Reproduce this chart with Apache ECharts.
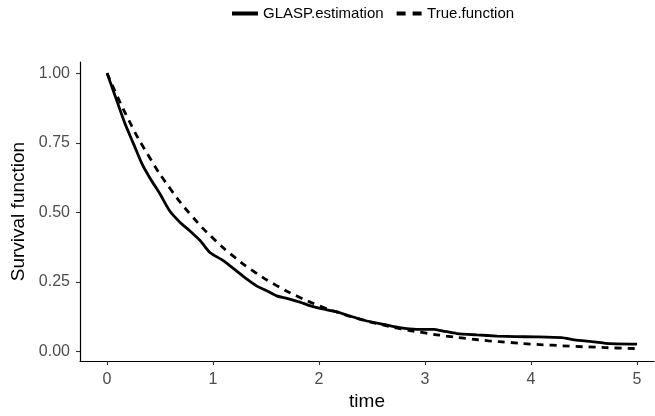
<!DOCTYPE html>
<html>
<head>
<meta charset="utf-8">
<script src="https://cdn.jsdelivr.net/npm/echarts@6/dist/echarts.min.js"></script>
<style>
html,body{margin:0;padding:0;background:#fff;}
#chart{width:655px;height:416px;}
</style>
</head>
<body>
<div id="chart"></div>
<script>
// Estimated curve (GLASP.estimation)
const glaspTime = [0, 0.08, 0.17, 0.25, 0.33, 0.41, 0.5, 0.59, 0.69, 0.78, 0.88, 0.97, 1.1, 1.22, 1.32, 1.41, 1.51, 1.6, 1.73, 1.82, 1.92, 2.01, 2.17, 2.29, 2.45, 2.61, 2.76, 2.92, 3.08, 3.17, 3.3, 3.49, 3.68, 3.85, 4.04, 4.29, 4.41, 4.6, 4.7, 5.0];
const glaspValue = [1.0, 0.914, 0.818, 0.746, 0.674, 0.62, 0.566, 0.506, 0.464, 0.434, 0.398, 0.356, 0.326, 0.29, 0.26, 0.236, 0.218, 0.2, 0.188, 0.178, 0.164, 0.155, 0.143, 0.128, 0.11, 0.098, 0.086, 0.08, 0.08, 0.074, 0.065, 0.06, 0.056, 0.054, 0.053, 0.05, 0.042, 0.035, 0.03, 0.027];
// True survival function
const trueTime = [0, 0.2, 0.4, 0.6, 0.8, 1.0, 1.2, 1.4, 1.6, 1.8, 2.0, 2.2, 2.4, 2.6, 2.8, 3.0, 3.2, 3.4, 3.6, 3.8, 4.0, 4.2, 4.4, 4.6, 4.8, 5.0];
const trueValue = [1.0, 0.835, 0.698, 0.583, 0.487, 0.407, 0.34, 0.284, 0.237, 0.198, 0.165, 0.138, 0.115, 0.096, 0.08, 0.067, 0.056, 0.047, 0.039, 0.033, 0.027, 0.023, 0.019, 0.016, 0.013, 0.011];
// Tick labels
const xTicks = [0, 1, 2, 3, 4, 5];
const yTicks = [0, 0.25, 0.5, 0.75, 1.0];
const seriesNames = ['GLASP.estimation', 'True.function'];

const zip = (a, b) => a.map((v, i) => [v, b[i]]);
const FONT = 'Liberation Sans, Arial, Helvetica, sans-serif';

const chart = echarts.init(document.getElementById('chart'), null, {renderer: 'canvas'});
chart.setOption({
  animation: false,
  backgroundColor: '#ffffff',
  textStyle: {fontFamily: FONT},
  legend: {
    top: 1,
    left: 227,
    itemWidth: 26,
    itemHeight: 4,
    itemGap: 13,
    textStyle: {fontSize: 15, color: '#000', fontFamily: FONT},
    data: [
      {name: seriesNames[0], icon: 'rect', itemStyle: {color: '#000'}},
      {name: seriesNames[1], icon: 'path://M0 0H9V4H0Z M16 0H25V4H16Z', itemStyle: {color: '#000'}}
    ]
  },
  grid: {left: 80, top: 62, width: 574, height: 300, containLabel: false},
  xAxis: {
    type: 'value',
    min: -0.255,
    max: 5.16,
    name: 'time',
    nameLocation: 'middle',
    nameGap: 30,
    nameTextStyle: {fontSize: 19, color: '#000', fontFamily: FONT},
    axisLine: {show: true, onZero: false, lineStyle: {color: '#000', width: 1.2}},
    axisTick: {show: true, customValues: xTicks, length: 4, lineStyle: {color: '#333', width: 1.1}},
    axisLabel: {customValues: xTicks, fontSize: 16, color: '#4d4d4d', margin: 10, formatter: v => String(v)},
    splitLine: {show: false}
  },
  yAxis: {
    type: 'value',
    min: -0.034,
    max: 1.04,
    name: 'Survival function',
    nameLocation: 'middle',
    nameGap: 52,
    nameTextStyle: {fontSize: 19, color: '#000', fontFamily: FONT},
    axisLine: {show: true, onZero: false, lineStyle: {color: '#000', width: 1.2}},
    axisTick: {show: true, customValues: yTicks, length: 4, lineStyle: {color: '#333', width: 1.1}},
    axisLabel: {customValues: yTicks, fontSize: 16, color: '#4d4d4d', margin: 10, formatter: v => v.toFixed(2)},
    splitLine: {show: false}
  },
  series: [
    {
      name: seriesNames[0],
      type: 'line',
      data: zip(glaspTime, glaspValue),
      showSymbol: false,
      symbol: 'none',
      smooth: 0.2,
      itemStyle: {color: '#000'},
      lineStyle: {color: '#000', width: 2.8, type: 'solid'}
    },
    {
      name: seriesNames[1],
      type: 'line',
      data: zip(trueTime, trueValue),
      showSymbol: false,
      symbol: 'none',
      smooth: true,
      itemStyle: {color: '#000'},
      lineStyle: {color: '#000', width: 2.8, type: [7, 6]}
    }
  ]
});
</script>
</body>
</html>
